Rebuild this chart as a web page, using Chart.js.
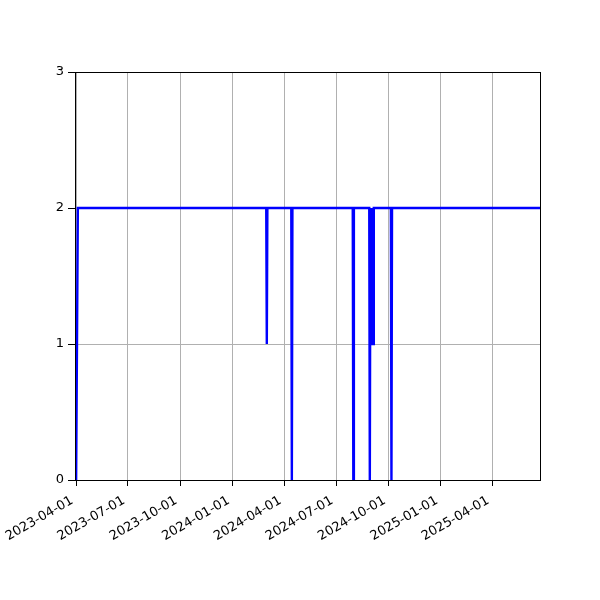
<!DOCTYPE html>
<html>
<head>
<meta charset="utf-8">
<script src="https://cdn.jsdelivr.net/npm/chart.js@4/dist/chart.umd.min.js"></script>
<style>
  body { margin: 0; background: #fff; }
  #wrap { width: 600px; height: 600px; }
</style>
</head>
<body>
<div id="wrap"><canvas id="chart" width="600" height="600"></canvas></div>
<script>
// dates where the status changes, with the value on that date
const dates = [
    '2023-04-01', '2023-04-04',
    '2024-02-29', '2024-03-01', '2024-03-02',
    '2024-04-13', '2024-04-14', '2024-04-15',
    '2024-07-30', '2024-07-31', '2024-08-01',
    '2024-08-28', '2024-08-29', '2024-08-30', '2024-08-31', '2024-09-01',
    '2024-09-02', '2024-09-03', '2024-09-04', '2024-09-05', '2024-09-06',
    '2024-10-05', '2024-10-06', '2024-10-07',
    '2025-06-24'
];
const values = [
    0, 2,
    2, 1, 2,
    2, 0, 2,
    2, 0, 2,
    2, 0, 2, 1, 2,
    1, 2, 1, 2, 2,
    2, 0, 2,
    2
];
const xRange = ['2023-03-30', '2025-06-24'];
const tickLabels = ['2023-04-01', '2023-07-01', '2023-10-01', '2024-01-01', '2024-04-01',
    '2024-07-01', '2024-10-01', '2025-01-01', '2025-04-01'];
const yTicks = [0, 1, 2, 3];

var points = dates.map(function(d, i) {
    return { x: Date.parse(d), y: values[i] };
});

var frame = {
    id: 'frame',
    afterDraw: function(chart) {
        var a = chart.chartArea, ctx = chart.ctx;
        ctx.save();
        ctx.strokeStyle = '#000';
        ctx.lineWidth = 1;
        ctx.strokeRect(Math.round(a.left) + 0.5, Math.round(a.top) + 0.5,
            Math.round(a.right - a.left), Math.round(a.bottom - a.top));
        ctx.restore();
    }
};

Chart.defaults.font.family = 'DejaVu Sans';
Chart.defaults.font.size = 13;
Chart.defaults.color = '#000';

new Chart(document.getElementById('chart').getContext('2d'), {
    type: 'line',
    data: {
        datasets: [{
            data: points,
            borderColor: '#0000ff',
            borderWidth: 2.4,
            pointRadius: 0,
            tension: 0,
            fill: false
        }]
    },
    options: {
        responsive: false,
        animation: false,
        layout: { padding: { top: 72, right: 60, left: 0, bottom: 0 } },
        plugins: { legend: { display: false }, tooltip: { enabled: false } },
        scales: {
            x: {
                type: 'linear',
                min: Date.parse(xRange[0]),
                max: Date.parse(xRange[1]),
                afterBuildTicks: function(scale) {
                    scale.ticks = tickLabels.map(function(t) { return { value: Date.parse(t) }; });
                },
                afterFit: function(scale) { scale.height = 120; },
                ticks: {
                    minRotation: 30,
                    maxRotation: 30,
                    padding: 7,
                    labelOffset: -4,
                    callback: function(value, index) { return tickLabels[index]; }
                },
                grid: { color: '#b0b0b0', tickColor: '#000', tickLength: 6, lineWidth: 1 },
                border: { color: '#000', width: 1 }
            },
            y: {
                min: 0,
                max: 3,
                afterBuildTicks: function(scale) {
                    scale.ticks = yTicks.map(function(v) { return { value: v }; });
                },
                afterFit: function(scale) { scale.width = 75; },
                ticks: { padding: 4 },
                grid: { color: '#b0b0b0', tickColor: '#000', tickLength: 7, lineWidth: 1 },
                border: { color: '#000', width: 1 }
            }
        }
    },
    plugins: [frame]
});
</script>
</body>
</html>
